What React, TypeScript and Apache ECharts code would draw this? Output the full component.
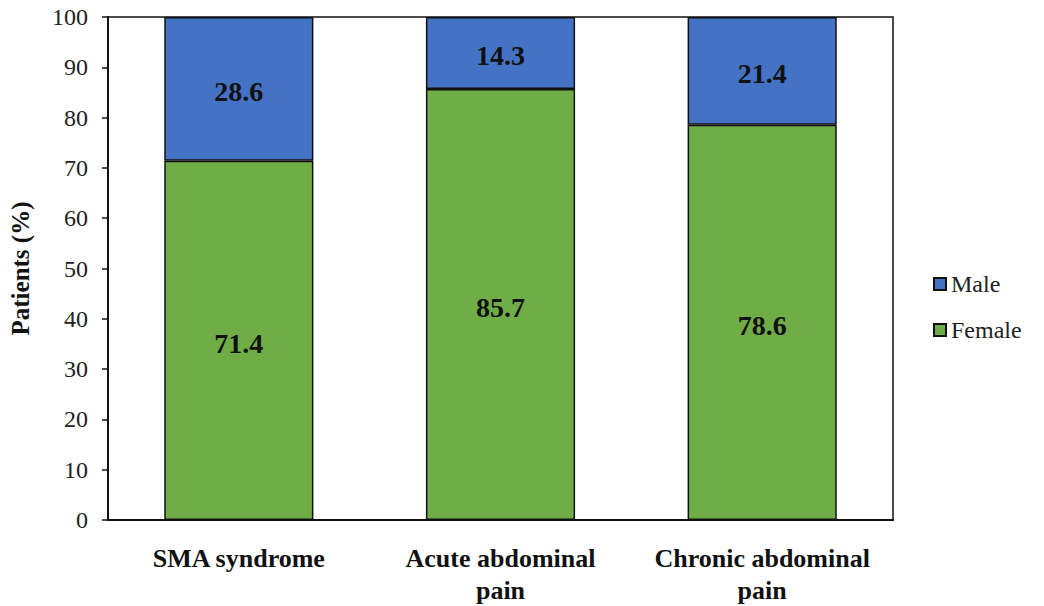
import React, { useEffect, useRef } from "react";
import * as echarts from "echarts";

const categories = ["SMA syndrome", "Acute abdominal\npain", "Chronic abdominal\npain"];
const femaleValues = [71.4, 85.7, 78.6];
const maleValues = [28.6, 14.3, 21.4];
const yTicks = { min: 0, max: 100, interval: 10 };

export default function App() {
  const ref = useRef<HTMLDivElement>(null);
  useEffect(() => {
    const chart = echarts.init(ref.current!, null, { renderer: "svg" });
    const labelStyle = {
      show: true,
      position: "inside",
      offset: [0, 3],
      fontFamily: "Liberation Serif",
      fontSize: 28,
      fontWeight: "bold",
      color: "#111",
    };
    chart.setOption({
      animation: false,
      textStyle: { fontFamily: "serif" },
      grid: {
        left: 107,
        right: 151,
        top: 17,
        bottom: 79,
        show: true,
        borderColor: "#111",
        borderWidth: 1.5,
      },
      legend: {
        orient: "vertical",
        left: 928,
        top: 267,
        itemWidth: 12,
        itemHeight: 12,
        itemGap: 22,
        icon: "rect",
        data: ["Male", "Female"],
        textStyle: { fontFamily: "Liberation Serif", fontSize: 24, color: "#222" },
      },
      xAxis: {
        type: "category",
        data: categories,
        axisLine: { lineStyle: { color: "#111", width: 2 } },
        axisTick: { show: false },
        axisLabel: {
          fontFamily: "Liberation Serif",
          fontSize: 26,
          fontWeight: "bold",
          color: "#111",
          margin: 22,
          lineHeight: 32,
          interval: 0,
        },
      },
      yAxis: {
        type: "value",
        min: yTicks.min,
        max: yTicks.max,
        interval: yTicks.interval,
        name: "Patients (%)",
        nameLocation: "middle",
        nameGap: 75,
        nameTextStyle: { fontFamily: "Liberation Serif", fontSize: 25, fontWeight: "bold", color: "#111" },
        axisLine: { show: true, lineStyle: { color: "#111", width: 2 } },
        axisTick: { show: true, length: 6, lineStyle: { color: "#111", width: 1.5 } },
        splitLine: { show: false },
        axisLabel: { fontFamily: "Liberation Serif", fontSize: 24, color: "#222", margin: 20 },
      },
      series: [
        {
          name: "Female",
          type: "bar",
          stack: "total",
          data: femaleValues,
          barWidth: "57%",
          itemStyle: { color: "#70AD47", borderColor: "#111", borderWidth: 1.5 },
          label: labelStyle,
        },
        {
          name: "Male",
          type: "bar",
          stack: "total",
          data: maleValues,
          barWidth: "57%",
          itemStyle: { color: "#4472C4", borderColor: "#111", borderWidth: 1.5 },
          label: labelStyle,
        },
      ],
    });
    return () => chart.dispose();
  }, []);
  return <div ref={ref} style={{ width: 1044, height: 606, position: "absolute", left: 0, top: 0 }} />;
}
